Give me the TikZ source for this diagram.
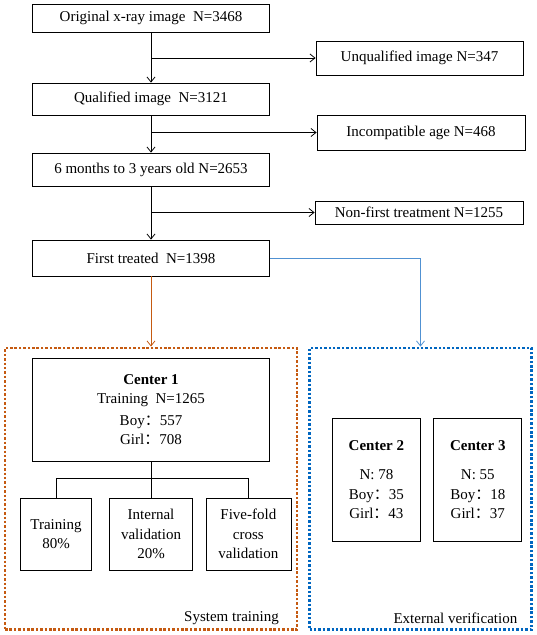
\documentclass[tikz,border=0pt]{standalone}
\usepackage{fontspec}
\setmainfont{Liberation Serif}
\newfontfamily\cjk{Noto Sans CJK SC}
\usetikzlibrary{arrows.meta}
\definecolor{trainorange}{RGB}{197,90,17}
\definecolor{verifyblue}{RGB}{0,102,192}
\definecolor{lineblue}{RGB}{80,145,210}
\newcommand{\fwc}{{\cjk ：}}
\begin{document}
\begin{tikzpicture}[x=1pt,y=-1pt,
    font=\fontsize{15}{19.5}\selectfont,
    box/.style={draw,line width=0.8pt,inner sep=1pt,align=center},
    flow/.style={-{Straight Barb[length=5pt,width=8pt]},line width=0.8pt},
    dotbox/.style={line width=2.9pt,dash pattern=on 2.5pt off 1.9pt}]
    \useasboundingbox (0,0) rectangle (536,635);
    % main chain
    \node[box,minimum width=237pt,minimum height=28pt] (orig) at (151,18) {Original x-ray image\ \ N=3468};
    \node[box,minimum width=207pt,minimum height=34pt] (unq) at (419.5,58) {Unqualified image N=347};
    \node[box,minimum width=237pt,minimum height=32pt] (qual) at (151,99) {Qualified image\ \ N=3121};
    \node[box,minimum width=208pt,minimum height=35pt] (incomp) at (421,132.5) {Incompatible age N=468};
    \node[box,minimum width=237pt,minimum height=33pt] (months) at (151,169.5) {6 months to 3 years old N=2653};
    \node[box,minimum width=208pt,minimum height=23pt] (nonfirst) at (419,212.5) {Non-first treatment N=1255};
    \node[box,minimum width=237pt,minimum height=36pt] (first) at (151,258) {First treated\ \ N=1398};
    \draw[flow] (orig) -- (qual);
    \draw[flow] (orig.south |- unq.west) -- (unq.west);
    \draw[flow] (qual) -- (months);
    \draw[flow] (qual.south |- incomp.west) -- (incomp.west);
    \draw[flow] (months) -- (first);
    \draw[flow] (months.south |- nonfirst.west) -- (nonfirst.west);
    % the two groups
    \node[dotbox,draw=trainorange,minimum width=292pt,minimum height=281.5pt] (sysbox) at (151,488.75) {};
    \node[dotbox,draw=verifyblue,minimum width=222pt,minimum height=281.5pt] (extbox) at (420.5,488.75) {};
    \draw[flow,trainorange] (first.south) -- (sysbox.north);
    \draw[flow,lineblue] (first.east) -| (extbox.north);
    \node[anchor=east,inner sep=0pt,xshift=-19.5pt,yshift=13pt] (syslabel) at (sysbox.south east) {System training};
    \node[anchor=east,inner sep=0pt,xshift=-15.5pt,yshift=13pt] (extlabel) at (extbox.south east) {External verification};
    % center 1
    \node[box,minimum width=237pt,minimum height=103pt] (c1) at (151,409.5)
      {\textbf{Center 1}\\Training\ \ N=1265\\[2pt]Boy\fwc 557\\Girl\fwc 708};
    \node[box,minimum width=71pt,minimum height=72pt] (train) at (56,534) {Training\\80\%};
    \node[box,minimum width=83pt,minimum height=72pt] (intval) at (151,534) {Internal\\validation\\20\%};
    \node[box,minimum width=85pt,minimum height=72pt] (fivefold) at (248.4,534) {Five-fold\\cross\\validation};
    \draw[line width=0.8pt] (c1.south) -- ++(0,17) coordinate (split);
    \draw[line width=0.8pt] (train.north) |- (split) -| (fivefold.north);
    \draw[line width=0.8pt] (split) -- (intval.north);
    % centers 2 and 3
    \node[box,minimum width=88pt,minimum height=123pt] (c2) at (376.4,479.5)
      {\textbf{Center 2}\\[10pt]N: 78\\Boy\fwc 35\\Girl\fwc 43};
    \node[box,minimum width=88pt,minimum height=123pt] (c3) at (477.8,479.5)
      {\textbf{Center 3}\\[10pt]N: 55\\Boy\fwc 18\\Girl\fwc 37};
\end{tikzpicture}
\end{document}
